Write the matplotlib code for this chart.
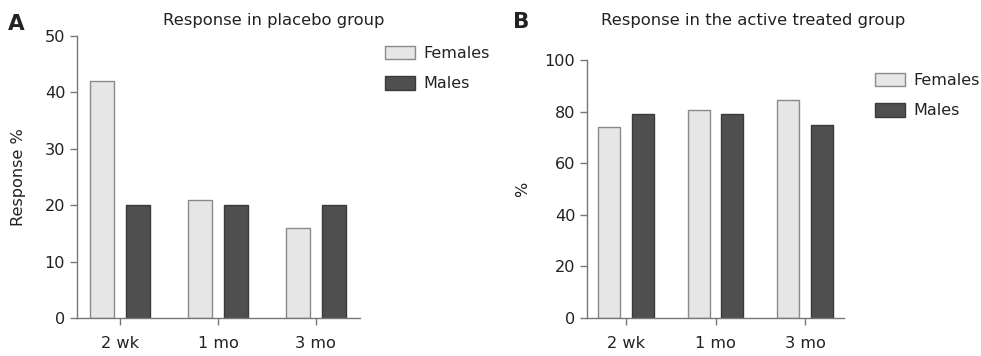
import matplotlib.pyplot as plt
import numpy as np

# Data
periods = ['2 wk', '1 mo', '3 mo']
placebo_females = [42, 21, 16]
placebo_males = [20, 20, 20]
active_females = [74, 80.5, 84.6]
active_males = [79, 79, 74.7]

plt.rcParams['font.family'] = 'DejaVu Sans'
plt.rcParams['font.size'] = 10.5
txt = '#222222'
spine = '#777777'
fem_face, fem_edge = '#e6e6e6', '#8a8a8a'
mal_face, mal_edge = '#4f4f4f', '#3a3a3a'

fig = plt.figure(figsize=(9.81, 3.56), dpi=100)
W, H = 981, 356


def panel(rect, fem, mal, ymax, step, ylabel, xlim):
    ax = fig.add_axes(rect)
    x = np.arange(len(periods))
    w, off = 0.245, 0.185
    ax.bar(x - off, fem, w, color=fem_face, edgecolor=fem_edge, linewidth=1, label='Females')
    ax.bar(x + off, mal, w, color=mal_face, edgecolor=mal_edge, linewidth=1, label='Males')
    ax.set_xlim(*xlim)
    ax.set_ylim(0, ymax)
    ax.set_yticks(np.arange(0, ymax + 1, step))
    ax.set_xticks(x)
    ax.set_xticklabels(periods)
    for s in ['top', 'right']:
        ax.spines[s].set_visible(False)
    for s in ['left', 'bottom']:
        ax.spines[s].set_color(spine)
        ax.spines[s].set_linewidth(1)
    ax.tick_params(axis='both', length=5, width=1, color=spine, labelcolor=txt, labelsize=11.6)
    ax.tick_params(axis='x', pad=8)
    ax.set_ylabel(ylabel, color=txt, fontsize=11.6)
    return ax


axA = panel([77 / W, 1 - 318 / H, (360 - 77) / W, (318 - 36) / H],
            placebo_females, placebo_males, 50, 10, 'Response %', (-0.44, 2.45))
axA.yaxis.set_label_coords(-0.18, 0.5)
axB = panel([587 / W, 1 - 318 / H, (844 - 587) / W, (318 - 60) / H],
            active_females, active_males, 100, 20, '%', (-0.436, 2.436))
axB.yaxis.set_label_coords(-0.22, 0.5)

fig.text(274 / W, 1 - 20 / H, 'Response in placebo group', ha='center', va='center', color=txt, fontsize=11.8)
fig.text(753 / W, 1 - 20 / H, 'Response in the active treated group', ha='center', va='center', color=txt, fontsize=11.8)
fig.text(8 / W, 1 - 24 / H, 'A', ha='left', va='center', fontsize=15.5, fontweight='bold', color=txt)
fig.text(513 / W, 1 - 22 / H, 'B', ha='left', va='center', fontsize=15.5, fontweight='bold', color=txt)

for ax, lx, ly in [(axA, 385, 46), (axB, 875, 73)]:
    ax.legend(loc='upper left', bbox_to_anchor=(lx / W, 1 - ly / H), bbox_transform=fig.transFigure,
              frameon=False, borderpad=0, borderaxespad=0, handlelength=1.9, handleheight=0.9,
              handletextpad=0.5, labelspacing=0.95, fontsize=11.5, labelcolor=txt)

fig.savefig('out.png', dpi=100)
